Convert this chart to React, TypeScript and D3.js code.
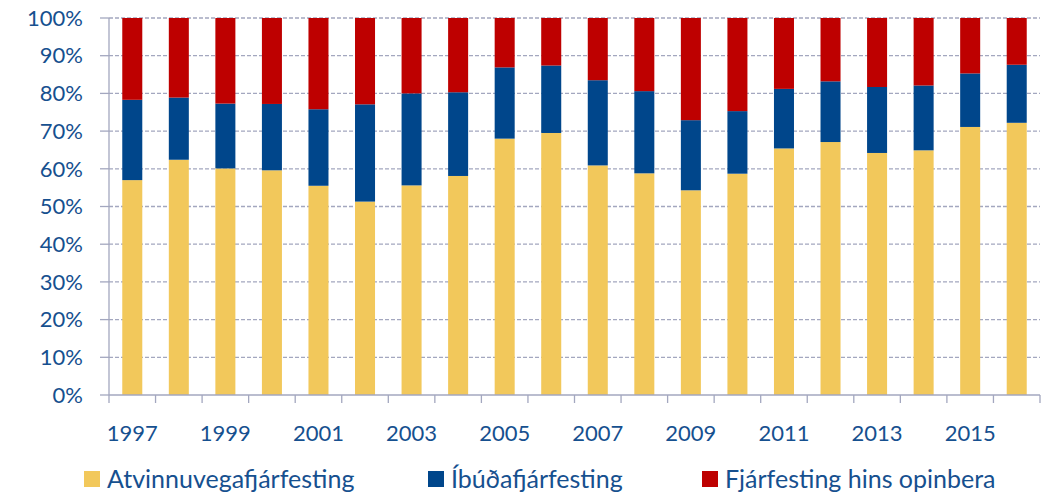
import React from "react";
import * as d3 from "d3";

const years = ["1997","1998","1999","2000","2001","2002","2003","2004","2005","2006","2007","2008","2009","2010","2011","2012","2013","2014","2015","2016"];
const atvinnu = [57.0,62.4,60.1,59.6,55.5,51.3,55.6,58.1,68.0,69.5,60.9,58.8,54.3,58.7,65.4,67.1,64.2,64.9,71.1,72.2];
const ibudTop = [78.3,78.9,77.3,77.2,75.8,77.1,80.0,80.3,86.9,87.4,83.5,80.6,72.9,75.3,81.2,83.2,81.7,82.1,85.3,87.6];
const ibud = ibudTop.map((t, i) => +(t - atvinnu[i]).toFixed(1));
const opinber = ibudTop.map((t) => +(100 - t).toFixed(1));
const seriesNames = ["Atvinnuvegafjárfesting", "Íbúðafjárfesting", "Fjárfesting hins opinbera"];
const seriesColors = ["#F2C85B", "#00468B", "#BE0000"];
const yTicks = [0,10,20,30,40,50,60,70,80,90,100];
const xLabelYears = ["1997","1999","2001","2003","2005","2007","2009","2011","2013","2015"];

const W = 1058, H = 492;
const left = 109, right = 1040, top = 18, bottom = 395;
const textColor = "#16508F";
const gridColor = "#A3A7BF";
const font = "Lato, 'Open Sans', sans-serif";

export default function App() {
  const x = d3.scaleBand<string>().domain(years).range([left, right]).paddingInner(0.57).paddingOuter(0.285);
  const xb = d3.scaleBand<string>().domain(years).range([left, right]);
  const y = d3.scaleLinear().domain([0, 100]).range([bottom, top]);
  const rows = years.map((yr, i) => ({ year: yr, a: atvinnu[i], b: ibud[i], c: opinber[i] }));
  const stack = d3.stack<any>().keys(["a", "b", "c"]);
  const layers = stack(rows);
  const legendX = [84, 428, 702];

  return (
    <svg width={W} height={H} style={{ position: "absolute", left: 0, top: 0, background: "#fff" }}>
      {yTicks.map((t) => (
        <g key={t}>
          {t > 0 && (
            <line x1={left} x2={right} y1={y(t)} y2={y(t)} stroke={gridColor} strokeWidth={1.3} strokeDasharray="4,2" />
          )}
          <line x1={left - 9} x2={left} y1={y(t)} y2={y(t)} stroke={gridColor} strokeWidth={1.3} />
          <text x={83} y={y(t)} dy="0.35em" textAnchor="end" fill={textColor} fontFamily={font} fontSize={22}>{t}%</text>
        </g>
      ))}
      {layers.map((layer, li) => (
        <g key={li} fill={seriesColors[li]}>
          {layer.map((d, i) => (
            <rect key={i} x={x(years[i])} width={x.bandwidth()} y={y(d[1])} height={y(d[0]) - y(d[1])} />
          ))}
        </g>
      ))}
      <line x1={left} x2={left} y1={top} y2={bottom} stroke={gridColor} strokeWidth={1.3} />
      <line x1={left} x2={right} y1={bottom} y2={bottom} stroke={gridColor} strokeWidth={1.3} />
      {years.concat(["end"]).map((yr, i) => {
        const xx = i < years.length ? (xb(yr) as number) : right;
        return <line key={i} x1={xx} x2={xx} y1={bottom} y2={bottom + 8} stroke={gridColor} strokeWidth={1.3} />;
      })}
      {xLabelYears.map((yr) => (
        <text key={yr} x={(xb(yr) as number) + xb.bandwidth() / 2} y={433} dy="0.35em" textAnchor="middle" fill={textColor} fontFamily={font} fontSize={22}>{yr}</text>
      ))}
      {seriesNames.map((n, i) => (
        <g key={n}>
          <rect x={legendX[i]} y={471} width={16} height={16} fill={seriesColors[i]} />
          <text x={legendX[i] + 23} y={479} dy="0.35em" fill={textColor} fontFamily={font} fontSize={25}>{n}</text>
        </g>
      ))}
    </svg>
  );
}
